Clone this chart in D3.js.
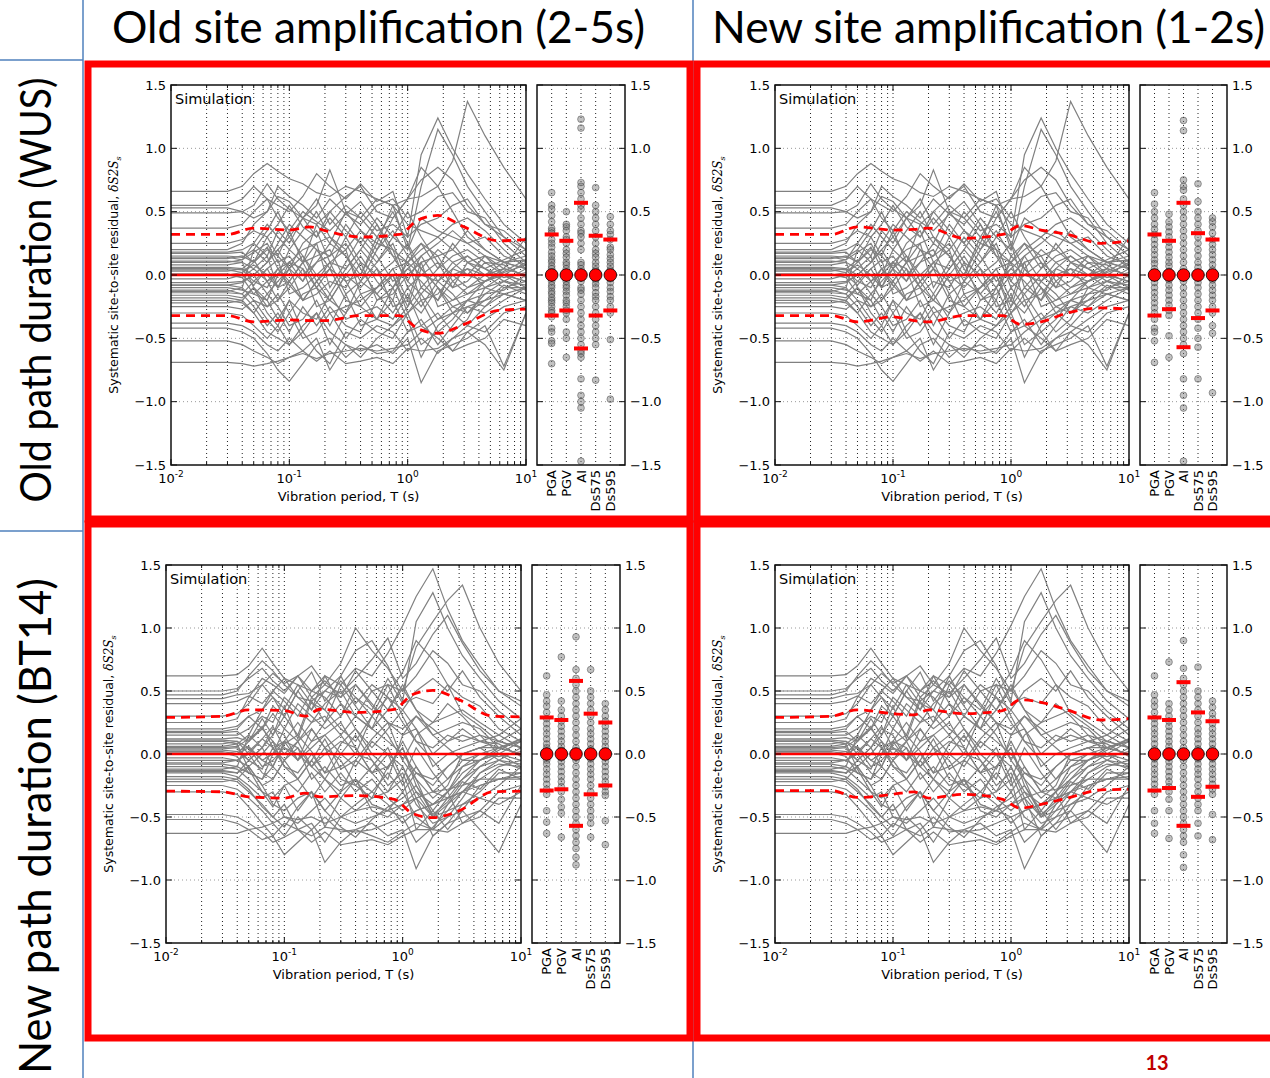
<!DOCTYPE html>
<html><head><meta charset="utf-8">
<script src="https://cdn.jsdelivr.net/npm/d3@7"></script>
<style>body{margin:0;background:#fff}svg{display:block}</style>
</head><body>
<svg id="c" width="1270" height="1078"></svg>
<script>
// ---------------- DATA ----------------
const columnTitles = ["Old site amplification (2-5s)", "New site amplification (1-2s)"];
const rowTitles = ["Old path duration (WUS)", "New path duration (BT14)"];
const categories = ["PGA", "PGV", "AI", "Ds575", "Ds595"];
const yTicks = [-1.5, -1.0, -0.5, 0.0, 0.5, 1.0, 1.5];
const xTickExps = [-2, -1, 0, 1];
const periods = [0.01,0.03,0.04,0.05,0.065,0.08,0.1,0.13,0.17,0.22,0.3,0.4,0.55,0.75,1.0,1.3,1.8,2.4,3.2,4.5,6.5,10];

// residual curves, top row (old path duration)
const row1Lines = [
[0.66,0.66,0.7,0.8,0.88,0.82,0.76,0.72,0.65,0.62,0.7,0.66,0.6,0.55,0.6,0.62,0.7,0.9,1.37,1.1,0.85,0.6],
[0.55,0.55,0.6,0.7,0.6,0.55,0.5,0.62,0.8,0.7,0.6,0.72,0.58,0.66,0.3,0.95,1.24,1.0,0.8,0.6,0.4,0.25],
[0.53,0.53,0.5,0.55,0.72,0.6,0.52,0.45,0.55,0.83,0.5,0.45,0.6,0.55,0.2,0.7,1.15,0.95,0.7,0.5,0.3,0.2],
[0.49,0.49,0.5,0.45,0.5,0.62,0.58,0.45,0.4,0.5,0.62,0.7,0.5,0.45,0.6,0.75,0.85,0.75,0.55,0.4,0.3,0.15],
[0.37,0.37,0.4,0.5,0.6,0.45,0.35,0.5,0.42,0.35,0.48,0.4,0.55,0.6,0.45,0.5,0.62,0.65,0.5,0.45,0.25,0.1],
[0.25,0.25,0.28,0.35,0.3,0.4,0.55,0.38,0.3,0.45,0.3,0.5,0.35,0.4,0.3,0.4,0.45,0.55,0.6,0.4,0.35,0.2],
[0.18,0.18,0.2,0.25,0.4,0.3,0.2,0.35,0.5,0.3,0.2,0.35,0.25,0.55,0.4,0.35,0.3,0.4,0.45,0.35,0.2,0.05],
[0.15,0.15,0.14,0.2,0.1,0.25,0.4,0.3,0.2,0.15,0.4,0.25,0.1,0.3,0.2,0.45,0.35,0.3,0.25,0.3,0.15,0.08],
[0.13,0.13,0.15,0.1,0.2,0.15,0.05,0.25,0.35,0.1,0.05,0.2,0.4,0.15,0.1,0.25,0.15,0.2,0.35,0.2,0.1,0.12],
[0.1,0.1,0.12,0.18,0.25,0.1,0.15,0.0,0.1,0.25,0.15,-0.05,0.2,0.35,0.15,0.05,0.2,0.1,0.15,0.05,0.12,0.2],
[0.06,0.06,0.05,0.0,0.1,0.2,0.3,0.15,-0.05,0.05,0.3,0.1,0.0,0.1,0.25,-0.1,0.05,0.25,0.1,0.0,0.05,0.3],
[0.03,0.03,0.05,0.12,-0.05,0.05,0.1,0.2,0.25,-0.1,0.1,0.3,0.15,-0.05,0.05,0.15,-0.05,0.05,0.0,0.15,0.1,0.15],
[0.0,0.0,-0.02,0.05,0.15,-0.1,-0.05,0.1,0.15,0.2,-0.05,0.0,0.25,0.2,-0.1,0.0,0.1,-0.1,-0.05,0.1,0.0,-0.05],
[-0.03,-0.03,0.0,-0.08,0.05,0.12,-0.15,-0.1,0.0,0.1,0.2,-0.15,-0.1,0.05,0.1,-0.2,-0.15,0.0,0.05,-0.1,-0.05,0.05],
[-0.06,-0.06,-0.05,0.0,-0.15,-0.05,0.05,-0.2,-0.15,-0.05,-0.1,0.1,-0.2,-0.15,0.0,0.1,-0.25,-0.2,-0.1,0.0,-0.1,-0.1],
[-0.1,-0.1,-0.12,-0.15,-0.05,-0.2,-0.1,0.05,-0.25,-0.2,0.0,-0.1,0.05,-0.25,-0.2,-0.3,-0.1,-0.3,-0.2,-0.15,-0.12,0.0],
[-0.13,-0.13,-0.1,-0.2,-0.25,-0.15,-0.3,-0.15,-0.1,-0.3,-0.25,-0.2,-0.1,0.0,-0.3,-0.15,-0.35,-0.25,-0.3,-0.2,-0.08,-0.15],
[-0.16,-0.16,-0.18,-0.1,-0.2,-0.35,-0.2,-0.3,-0.35,-0.15,-0.35,-0.3,-0.25,-0.35,-0.15,-0.4,-0.3,-0.45,-0.35,-0.1,-0.15,-0.2],
[-0.2,-0.2,-0.22,-0.3,-0.15,-0.25,-0.4,-0.35,-0.2,-0.4,-0.15,-0.4,-0.35,-0.2,-0.45,-0.35,-0.55,-0.4,-0.25,-0.3,-0.2,-0.1],
[-0.25,-0.25,-0.27,-0.2,-0.35,-0.45,-0.3,-0.5,-0.45,-0.3,-0.5,-0.35,-0.45,-0.5,-0.3,-0.55,-0.45,-0.6,-0.45,-0.35,-0.25,-0.2],
[-0.3,-0.3,-0.32,-0.4,-0.5,-0.4,-0.55,-0.45,-0.6,-0.7,-0.45,-0.5,-0.4,-0.45,-0.6,-0.5,-0.62,-0.5,-0.4,-0.45,-0.3,-0.25],
[-0.38,-0.38,-0.4,-0.45,-0.55,-0.6,-0.5,-0.6,-0.5,-0.75,-0.55,-0.6,-0.55,-0.62,-0.5,-0.85,-0.6,-0.55,-0.5,-0.4,-0.72,-0.3],
[-0.42,-0.42,-0.45,-0.5,-0.62,-0.75,-0.84,-0.7,-0.55,-0.5,-0.65,-0.55,-0.62,-0.6,-0.45,-0.4,-0.5,-0.6,-0.55,-0.5,-0.35,-0.4],
[-0.52,-0.52,-0.55,-0.6,-0.65,-0.7,-0.65,-0.6,-0.68,-0.6,-0.7,-0.68,-0.65,-0.7,-0.58,-0.6,-0.58,-0.5,-0.45,-0.55,-0.75,-0.3],
[-0.69,-0.69,-0.7,-0.72,-0.7,-0.68,-0.65,-0.62,-0.66,-0.62,-0.6,-0.58,-0.6,-0.58,-0.55,-0.45,-0.35,-0.3,-0.25,-0.2,-0.15,-0.1],
[0.2,0.2,0.25,0.4,0.5,0.7,0.62,0.55,0.45,0.6,0.48,0.58,0.4,0.2,0.1,0.2,0.3,0.2,0.1,0.15,0.05,0.0],
[-0.08,-0.08,-0.1,0.2,0.35,0.5,0.3,0.45,0.6,0.4,0.55,0.45,0.3,0.5,0.25,0.05,-0.1,-0.2,-0.15,-0.05,0.0,-0.05],
[0.08,0.08,0.1,-0.1,-0.3,-0.4,-0.2,-0.45,-0.3,-0.55,-0.3,-0.15,-0.35,-0.4,-0.25,-0.1,-0.2,-0.05,0.05,0.0,0.1,0.05],
[-0.12,-0.12,-0.15,-0.25,-0.4,-0.3,-0.45,-0.25,-0.4,-0.25,-0.4,-0.45,-0.2,-0.1,-0.35,-0.65,-0.4,-0.3,-0.4,-0.25,-0.1,-0.05],
[0.14,0.14,0.12,0.25,0.15,0.35,0.25,0.45,0.3,0.5,0.35,0.25,0.45,0.3,0.5,0.3,0.1,0.0,-0.1,-0.05,0.02,0.08],
[-0.18,-0.18,-0.2,-0.3,-0.45,-0.5,-0.55,-0.4,-0.3,-0.45,-0.55,-0.65,-0.5,-0.4,-0.3,-0.2,-0.45,-0.35,-0.2,-0.25,-0.15,-0.2],
[0.04,0.04,0.02,0.1,0.3,0.15,0.35,0.1,0.4,0.25,0.5,0.35,0.2,0.45,0.6,0.85,0.7,0.5,0.3,0.2,0.1,0.05],
[0.0,0.0,0.02,0.08,0.0,-0.1,0.05,0.15,0.0,-0.15,0.05,0.2,0.05,-0.1,0.1,0.0,-0.05,0.1,0.0,-0.05,0.05,0.0],
[0.05,0.05,0.04,-0.05,-0.1,0.05,-0.08,-0.2,-0.05,0.1,-0.15,-0.05,0.1,0.25,-0.05,-0.15,0.0,-0.1,0.1,0.05,-0.05,-0.08],
[-0.08,-0.08,-0.06,0.0,0.1,0.2,0.05,-0.05,0.2,0.05,-0.2,-0.25,-0.1,0.05,-0.2,0.1,0.15,-0.05,-0.15,-0.1,0.0,0.1],
[0.11,0.11,0.1,0.05,-0.05,0.0,0.2,0.1,-0.1,-0.2,0.0,0.15,-0.05,-0.2,0.15,0.25,0.05,0.15,0.2,0.1,0.08,-0.02],
[-0.14,-0.14,-0.15,-0.05,0.05,-0.1,0.1,0.05,-0.1,0.05,-0.05,-0.25,-0.35,-0.1,0.05,-0.05,-0.2,0.05,0.15,0.05,-0.02,0.02],
[0.17,0.17,0.18,0.1,0.22,0.05,-0.05,0.1,0.25,0.3,0.15,0.0,0.3,0.15,-0.05,0.15,0.25,0.35,0.25,0.15,0.0,-0.1],
[-0.22,-0.22,-0.2,-0.1,-0.25,-0.2,-0.05,-0.2,-0.05,-0.2,-0.3,-0.05,-0.15,-0.3,-0.1,-0.25,-0.05,-0.15,-0.3,-0.15,-0.05,-0.12],
[0.01,0.01,-0.02,-0.15,-0.2,0.0,0.1,-0.05,0.1,0.15,0.25,0.05,-0.15,0.0,-0.25,0.05,-0.1,-0.25,-0.2,-0.05,0.03,0.12]
];

// residual curves, bottom row (new path duration)
const row2Lines = [
[0.62,0.62,0.63,0.7,0.84,0.72,0.6,0.55,0.5,0.62,0.55,0.68,0.62,0.8,1.02,1.25,1.47,1.15,0.9,0.7,0.5,0.38],
[0.5,0.5,0.52,0.6,0.68,0.58,0.5,0.62,0.45,0.55,0.72,1.0,0.82,0.68,0.5,0.85,1.05,1.22,1.34,1.0,0.72,0.5],
[0.47,0.47,0.5,0.62,0.74,0.66,0.55,0.45,0.42,0.5,0.62,0.82,0.9,0.7,0.42,1.05,1.28,1.0,0.78,0.6,0.42,0.28],
[0.44,0.44,0.47,0.48,0.55,0.64,0.56,0.62,0.7,0.55,0.48,0.6,0.75,0.92,0.6,0.72,0.95,1.1,0.88,0.66,0.5,0.42],
[0.4,0.4,0.42,0.46,0.4,0.5,0.6,0.45,0.35,0.5,0.45,0.66,0.5,0.55,0.5,0.62,0.82,0.72,0.55,0.5,0.34,0.2],
[0.3,0.3,0.32,0.4,0.55,0.45,0.36,0.55,0.4,0.35,0.62,0.4,0.55,0.45,0.35,0.5,0.6,0.5,0.66,0.45,0.3,0.15],
[0.2,0.2,0.22,0.3,0.35,0.5,0.42,0.3,0.5,0.45,0.3,0.45,0.35,0.6,0.4,0.45,0.4,0.55,0.45,0.38,0.2,0.1],
[0.15,0.15,0.15,0.2,0.3,0.25,0.45,0.35,0.25,0.4,0.5,0.3,0.2,0.35,0.55,0.35,0.25,0.3,0.35,0.25,0.15,0.05],
[0.12,0.12,0.13,0.1,0.2,0.32,0.2,0.4,0.3,0.2,0.3,0.55,0.4,0.25,0.2,0.3,0.15,0.2,0.25,0.2,0.05,0.12],
[0.1,0.1,0.08,0.15,0.05,0.15,0.3,0.15,0.45,0.35,0.2,0.1,0.3,0.45,0.25,0.1,0.05,0.15,0.1,0.15,0.1,0.2],
[0.08,0.08,0.1,0.0,0.12,0.05,0.1,0.25,0.1,0.25,0.4,0.2,0.05,0.2,0.35,0.2,-0.1,0.0,0.05,0.1,0.15,0.28],
[0.05,0.05,0.06,0.12,0.2,0.1,0.0,0.1,0.2,0.05,0.15,0.3,0.2,0.1,0.0,-0.15,-0.2,-0.1,0.0,0.05,0.05,0.1],
[0.03,0.03,0.02,-0.05,0.05,0.2,0.15,-0.05,0.05,0.15,0.0,-0.1,0.1,0.0,-0.1,-0.3,-0.4,-0.3,-0.15,-0.05,0.0,0.0],
[0.0,0.0,0.0,0.05,-0.1,-0.05,0.05,0.0,-0.1,0.0,0.1,0.05,-0.15,-0.1,0.05,-0.2,-0.5,-0.45,-0.3,-0.2,-0.1,-0.05],
[-0.03,-0.03,-0.05,-0.1,0.0,0.1,-0.1,-0.15,0.0,-0.15,-0.1,0.0,-0.05,-0.25,-0.15,-0.4,-0.55,-0.5,-0.35,-0.15,-0.08,-0.1],
[-0.05,-0.05,-0.05,0.0,-0.15,-0.2,-0.05,0.05,-0.2,-0.1,-0.25,-0.2,-0.3,-0.15,-0.3,-0.5,-0.6,-0.4,-0.25,-0.1,-0.05,0.05],
[-0.08,-0.08,-0.1,-0.15,-0.2,-0.1,-0.2,-0.3,-0.15,-0.3,-0.15,-0.3,-0.2,-0.35,-0.45,-0.35,-0.65,-0.55,-0.4,-0.3,-0.15,-0.15],
[-0.1,-0.1,-0.12,-0.2,-0.3,-0.35,-0.25,-0.2,-0.35,-0.2,-0.35,-0.45,-0.35,-0.3,-0.2,-0.6,-0.45,-0.6,-0.45,-0.25,-0.2,-0.2],
[-0.13,-0.13,-0.15,-0.1,-0.25,-0.4,-0.45,-0.35,-0.3,-0.45,-0.3,-0.2,-0.45,-0.5,-0.4,-0.3,-0.5,-0.35,-0.3,-0.35,-0.25,-0.1],
[-0.15,-0.15,-0.18,-0.25,-0.35,-0.3,-0.5,-0.55,-0.45,-0.35,-0.5,-0.4,-0.3,-0.4,-0.55,-0.45,-0.4,-0.3,-0.55,-0.45,-0.3,-0.25],
[-0.2,-0.2,-0.22,-0.3,-0.4,-0.5,-0.4,-0.6,-0.55,-0.7,-0.5,-0.55,-0.5,-0.45,-0.5,-0.7,-0.58,-0.45,-0.4,-0.35,-0.4,-0.3],
[-0.25,-0.25,-0.28,-0.35,-0.45,-0.55,-0.65,-0.5,-0.6,-0.5,-0.62,-0.6,-0.55,-0.65,-0.6,-0.91,-0.65,-0.55,-0.5,-0.45,-0.55,-0.25],
[-0.3,-0.3,-0.32,-0.42,-0.55,-0.65,-0.8,-0.7,-0.6,-0.86,-0.7,-0.6,-0.65,-0.7,-0.62,-0.55,-0.6,-0.62,-0.55,-0.5,-0.35,-0.35],
[-0.48,-0.48,-0.5,-0.55,-0.62,-0.7,-0.66,-0.6,-0.7,-0.62,-0.72,-0.7,-0.68,-0.72,-0.65,-0.6,-0.6,-0.5,-0.45,-0.6,-0.78,-0.4],
[-0.52,-0.52,-0.55,-0.6,-0.68,-0.65,-0.55,-0.6,-0.65,-0.58,-0.6,-0.62,-0.6,-0.55,-0.5,-0.45,-0.4,-0.35,-0.3,-0.25,-0.2,-0.15],
[-0.63,-0.63,-0.63,-0.6,-0.58,-0.55,-0.5,-0.52,-0.5,-0.55,-0.5,-0.45,-0.42,-0.45,-0.4,-0.35,-0.3,-0.28,-0.25,-0.2,-0.2,-0.18],
[0.25,0.25,0.28,0.45,0.6,0.55,0.48,0.62,0.5,0.58,0.45,0.55,0.38,0.25,0.15,0.3,0.2,0.1,0.15,0.1,0.05,0.0],
[-0.12,-0.12,-0.1,0.15,0.35,0.45,0.3,0.5,0.65,0.42,0.58,0.45,0.3,0.55,0.3,0.1,-0.05,-0.2,-0.1,-0.05,0.0,-0.05],
[0.06,0.06,0.08,-0.12,-0.3,-0.42,-0.25,-0.45,-0.3,-0.58,-0.35,-0.2,-0.4,-0.45,-0.3,-0.15,-0.25,-0.1,0.0,0.05,0.1,0.05],
[0.18,0.18,0.2,0.3,0.2,0.38,0.3,0.5,0.35,0.62,0.4,0.3,0.5,0.35,0.52,0.35,0.15,0.05,-0.05,0.0,0.05,0.1],
[-0.18,-0.18,-0.2,-0.28,-0.42,-0.5,-0.58,-0.42,-0.3,-0.45,-0.58,-0.66,-0.52,-0.42,-0.35,-0.25,-0.48,-0.38,-0.22,-0.28,-0.12,-0.2],
[0.02,0.02,0.0,0.1,0.28,0.15,0.38,0.12,0.42,0.25,0.55,0.38,0.2,0.48,0.65,0.9,0.75,0.55,0.32,0.22,0.1,0.05],
[0.0,0.0,0.02,0.06,-0.05,-0.1,0.08,0.15,0.02,-0.15,0.08,0.2,0.0,-0.12,0.1,-0.1,-0.3,-0.2,-0.05,-0.05,0.05,0.0],
[0.04,0.04,0.05,-0.05,-0.12,0.05,-0.1,-0.2,-0.05,0.12,-0.12,-0.05,0.12,0.25,-0.05,-0.2,-0.35,-0.25,0.0,0.05,-0.05,-0.08],
[-0.07,-0.07,-0.05,0.02,0.12,0.22,0.05,-0.05,0.2,0.05,-0.2,-0.25,-0.1,0.05,-0.2,0.05,-0.15,-0.3,-0.2,-0.1,0.0,0.1],
[0.11,0.11,0.1,0.05,-0.05,0.0,0.2,0.1,-0.1,-0.2,0.0,0.15,-0.05,-0.2,0.15,0.2,0.0,0.1,0.2,0.1,0.08,-0.02],
[-0.14,-0.14,-0.15,-0.05,0.05,-0.1,0.1,0.05,-0.1,0.05,-0.05,-0.25,-0.35,-0.1,0.05,-0.25,-0.45,-0.3,-0.1,0.0,-0.02,0.02],
[0.17,0.17,0.18,0.1,0.22,0.05,-0.05,0.1,0.25,0.3,0.15,0.0,0.3,0.15,-0.05,0.15,0.25,0.4,0.3,0.15,0.0,-0.1],
[-0.22,-0.22,-0.2,-0.1,-0.25,-0.2,-0.05,-0.2,-0.05,-0.2,-0.3,-0.05,-0.15,-0.3,-0.1,-0.35,-0.5,-0.4,-0.3,-0.15,-0.05,-0.12],
[0.01,0.01,-0.02,-0.15,-0.2,0.0,0.1,-0.05,0.1,0.15,0.25,0.05,-0.15,0.0,-0.25,-0.1,-0.3,-0.35,-0.2,-0.05,0.03,0.12]
];

// +/- one standard deviation curves
const sigmaPeriods = [0.01,0.03,0.05,0.1,0.15,0.2,0.4,0.85,1.2,1.8,3.0,5.8,10];
const sigmaUpperTL = [0.32,0.32,0.37,0.355,0.38,0.35,0.30,0.32,0.43,0.47,0.38,0.27,0.28];
const sigmaLowerTL = [-0.32,-0.32,-0.37,-0.355,-0.36,-0.36,-0.32,-0.32,-0.42,-0.46,-0.39,-0.28,-0.27];
const sigmaUpperTR = [0.32,0.32,0.38,0.355,0.36,0.37,0.29,0.32,0.39,0.355,0.32,0.25,0.27];
const sigmaLowerTR = [-0.32,-0.32,-0.37,-0.33,-0.36,-0.37,-0.32,-0.32,-0.39,-0.37,-0.3,-0.26,-0.27];
const sigmaUpperBL = [0.29,0.30,0.35,0.345,0.30,0.355,0.33,0.355,0.47,0.505,0.43,0.30,0.295];
const sigmaLowerBL = [-0.295,-0.30,-0.34,-0.35,-0.31,-0.34,-0.33,-0.36,-0.47,-0.505,-0.45,-0.30,-0.295];
const sigmaUpperBR = [0.29,0.30,0.35,0.32,0.31,0.35,0.32,0.345,0.43,0.41,0.35,0.27,0.28];
const sigmaLowerBR = [-0.29,-0.29,-0.345,-0.32,-0.30,-0.35,-0.32,-0.36,-0.43,-0.40,-0.35,-0.285,-0.28];

// site terms for scalar intensity measures (per category)
const scatterTL = [
[0.65,0.55,0.52,0.47,0.42,0.37,0.35,0.33,0.28,0.25,0.22,0.18,0.15,0.12,0.1,0.07,0.05,0.02,-0.02,-0.05,-0.08,-0.1,-0.13,-0.15,-0.18,-0.2,-0.22,-0.25,-0.28,-0.3,-0.33,-0.42,-0.45,-0.52,-0.54,-0.7],
[0.5,0.4,0.38,0.35,0.3,0.28,0.25,0.2,0.17,0.14,0.1,0.08,0.05,0.02,-0.02,-0.05,-0.08,-0.1,-0.13,-0.16,-0.2,-0.22,-0.25,-0.28,-0.3,-0.35,-0.45,-0.5,-0.65],
[1.23,1.16,0.73,0.7,0.65,0.6,0.55,0.52,0.45,0.4,0.35,0.33,0.3,0.25,0.2,0.1,0.08,0.05,0.02,-0.05,-0.1,-0.12,-0.15,-0.2,-0.25,-0.3,-0.35,-0.4,-0.45,-0.5,-0.55,-0.6,-0.62,-0.65,-0.82,-0.95,-1.0,-1.05,-1.47],
[0.69,0.55,0.5,0.45,0.4,0.35,0.3,0.25,0.2,0.17,0.14,0.1,0.07,0.04,0.0,-0.04,-0.07,-0.1,-0.14,-0.17,-0.2,-0.25,-0.3,-0.35,-0.4,-0.45,-0.5,-0.55,-0.83],
[0.46,0.4,0.35,0.32,0.28,0.22,0.2,0.16,0.13,0.1,0.07,0.04,0.0,-0.03,-0.06,-0.1,-0.13,-0.17,-0.2,-0.25,-0.3,-0.51,-0.98]
];
const scatterTR = [
[0.65,0.56,0.5,0.45,0.4,0.36,0.32,0.28,0.24,0.2,0.16,0.12,0.09,0.05,0.02,-0.02,-0.06,-0.1,-0.14,-0.18,-0.22,-0.26,-0.3,-0.35,-0.42,-0.45,-0.52,-0.69],
[0.48,0.42,0.38,0.34,0.3,0.26,0.22,0.18,0.14,0.1,0.07,0.03,0.0,-0.04,-0.08,-0.12,-0.16,-0.2,-0.24,-0.28,-0.32,-0.48,-0.65],
[1.22,1.14,0.75,0.7,0.67,0.6,0.55,0.5,0.45,0.4,0.35,0.3,0.25,0.2,0.15,0.1,0.05,0.0,-0.05,-0.1,-0.15,-0.2,-0.25,-0.3,-0.35,-0.4,-0.45,-0.5,-0.55,-0.62,-0.82,-0.95,-1.05,-1.47],
[0.72,0.58,0.5,0.45,0.4,0.35,0.3,0.25,0.2,0.15,0.1,0.06,0.02,-0.02,-0.06,-0.1,-0.15,-0.2,-0.25,-0.3,-0.35,-0.42,-0.5,-0.57,-0.82],
[0.45,0.42,0.38,0.33,0.28,0.24,0.2,0.16,0.12,0.08,0.04,0.0,-0.04,-0.08,-0.12,-0.16,-0.2,-0.25,-0.3,-0.4,-0.46,-0.93]
];
const scatterBL = [
[0.62,0.47,0.42,0.38,0.33,0.28,0.24,0.2,0.16,0.12,0.08,0.05,0.02,-0.02,-0.05,-0.08,-0.12,-0.16,-0.2,-0.24,-0.28,-0.32,-0.45,-0.54,-0.63],
[0.77,0.42,0.35,0.3,0.26,0.22,0.18,0.14,0.1,0.06,0.03,0.0,-0.03,-0.06,-0.1,-0.14,-0.18,-0.22,-0.26,-0.3,-0.36,-0.42,-0.47,-0.66],
[0.93,0.67,0.6,0.55,0.5,0.45,0.4,0.35,0.3,0.25,0.2,0.15,0.1,0.05,0.0,-0.05,-0.1,-0.15,-0.2,-0.25,-0.3,-0.35,-0.4,-0.45,-0.5,-0.55,-0.6,-0.65,-0.7,-0.75,-0.82,-0.88],
[0.67,0.5,0.45,0.4,0.35,0.3,0.25,0.2,0.16,0.12,0.08,0.04,0.0,-0.04,-0.08,-0.12,-0.16,-0.2,-0.25,-0.3,-0.35,-0.4,-0.45,-0.5,-0.55,-0.66],
[0.4,0.35,0.3,0.26,0.22,0.18,0.14,0.1,0.06,0.02,-0.02,-0.06,-0.1,-0.14,-0.18,-0.22,-0.26,-0.3,-0.33,-0.53,-0.72]
];
const scatterBR = [
[0.62,0.47,0.42,0.38,0.33,0.28,0.24,0.2,0.16,0.12,0.08,0.04,0.0,-0.04,-0.08,-0.12,-0.16,-0.2,-0.24,-0.28,-0.32,-0.45,-0.55,-0.63],
[0.73,0.4,0.35,0.3,0.26,0.22,0.18,0.14,0.1,0.06,0.02,-0.02,-0.06,-0.1,-0.14,-0.18,-0.22,-0.26,-0.3,-0.36,-0.45,-0.67],
[0.9,0.68,0.6,0.55,0.5,0.45,0.4,0.35,0.3,0.25,0.2,0.15,0.1,0.05,0.0,-0.05,-0.1,-0.15,-0.2,-0.25,-0.3,-0.35,-0.4,-0.45,-0.5,-0.55,-0.6,-0.65,-0.7,-0.8,-0.9],
[0.69,0.5,0.45,0.4,0.35,0.3,0.25,0.2,0.16,0.12,0.08,0.04,0.0,-0.04,-0.08,-0.12,-0.16,-0.2,-0.25,-0.3,-0.35,-0.4,-0.45,-0.55,-0.65],
[0.42,0.37,0.32,0.28,0.24,0.2,0.16,0.12,0.08,0.04,0.0,-0.04,-0.08,-0.12,-0.16,-0.2,-0.24,-0.28,-0.32,-0.48,-0.68]
];
const barsUpperTL = [0.32,0.27,0.57,0.31,0.28];
const barsLowerTL = [-0.32,-0.28,-0.58,-0.32,-0.28];
const barsUpperTR = [0.32,0.27,0.57,0.33,0.28];
const barsLowerTR = [-0.32,-0.27,-0.57,-0.34,-0.28];
const barsUpperBL = [0.29,0.27,0.58,0.32,0.25];
const barsLowerBL = [-0.29,-0.28,-0.57,-0.32,-0.25];
const barsUpperBR = [0.29,0.27,0.57,0.33,0.26];
const barsLowerBR = [-0.29,-0.27,-0.57,-0.34,-0.26];
const meansAll = [0,0,0,0,0];

// ---------------- LAYOUT ----------------
const panels = [
 {lines:row1Lines, su:sigmaUpperTL, sl:sigmaLowerTL, sc:scatterTL, bu:barsUpperTL, bl:barsLowerTL, x0:171,x1:526,y0:85,y1:465,s0:537,s1:625,ylx:118},
 {lines:row1Lines, su:sigmaUpperTR, sl:sigmaLowerTR, sc:scatterTR, bu:barsUpperTR, bl:barsLowerTR, x0:775,x1:1129,y0:85,y1:465,s0:1140,s1:1227,ylx:722},
 {lines:row2Lines, su:sigmaUpperBL, sl:sigmaLowerBL, sc:scatterBL, bu:barsUpperBL, bl:barsLowerBL, x0:166,x1:521,y0:565,y1:943,s0:532,s1:620,ylx:113},
 {lines:row2Lines, su:sigmaUpperBR, sl:sigmaLowerBR, sc:scatterBR, bu:barsUpperBR, bl:barsLowerBR, x0:775,x1:1129,y0:565,y1:943,s0:1140,s1:1227,ylx:722}
];

const svg = d3.select("#c");
svg.append("rect").attr("width",1270).attr("height",1078).attr("fill","#fff");
const TF = "'DejaVu Sans', sans-serif";
const fmt = d3.format(".1f");

// slide frame lines (blue)
const blue = "#4f81bd";
[[83,0,83,1078],[693,0,693,1078],[0,60,83,60],[0,531,83,531]].forEach(l=>
  svg.append("line").attr("x1",l[0]).attr("y1",l[1]).attr("x2",l[2]).attr("y2",l[3])
    .attr("stroke",blue).attr("stroke-width",1.5));

// column titles
svg.append("text").attr("x",112).attr("y",43).attr("font-family","Lato, 'Open Sans', sans-serif")
  .attr("font-size",44).attr("textLength",533).attr("lengthAdjust","spacingAndGlyphs").text(columnTitles[0]);
svg.append("text").attr("x",712).attr("y",43).attr("font-family","Lato, 'Open Sans', sans-serif")
  .attr("font-size",44).attr("textLength",553).attr("lengthAdjust","spacingAndGlyphs").text(columnTitles[1]);
// row titles
svg.append("text").attr("transform","translate(51,290) rotate(-90)").attr("text-anchor","middle")
  .attr("font-family","Lato, 'Open Sans', sans-serif").attr("font-size",42)
  .attr("textLength",425).attr("lengthAdjust","spacingAndGlyphs").text(rowTitles[0]);
svg.append("text").attr("transform","translate(51,826) rotate(-90)").attr("text-anchor","middle")
  .attr("font-family","Lato, 'Open Sans', sans-serif").attr("font-size",44)
  .attr("textLength",496).attr("lengthAdjust","spacingAndGlyphs").text(rowTitles[1]);

panels.forEach((P,pi)=>{
  const g = svg.append("g");
  const x = d3.scaleLog().domain([0.01,10]).range([P.x0,P.x1]);
  const y = d3.scaleLinear().domain([-1.5,1.5]).range([P.y1,P.y0]);
  const clipId = "clip"+pi;
  svg.append("clipPath").attr("id",clipId).append("rect")
    .attr("x",P.x0).attr("y",P.y0).attr("width",P.x1-P.x0).attr("height",P.y1-P.y0);

  // grid
  const allX = x.ticks();
  g.selectAll(null).data(allX.filter(t=>t>0.01&&t<10)).join("line")
    .attr("x1",d=>x(d)).attr("x2",d=>x(d)).attr("y1",P.y0).attr("y2",P.y1)
    .attr("stroke","#222").attr("stroke-width",1).attr("stroke-dasharray","1,3");
  g.selectAll(null).data(yTicks.filter(t=>t>-1.5&&t<1.5)).join("line")
    .attr("x1",P.x0).attr("x2",P.x1).attr("y1",d=>y(d)).attr("y2",d=>y(d))
    .attr("stroke","#999").attr("stroke-width",1).attr("stroke-dasharray","1,3");

  const line = d3.line().x(d=>x(d[0])).y(d=>y(d[1]));
  const lg = g.append("g").attr("clip-path",`url(#${clipId})`);
  lg.selectAll(null).data(P.lines).join("path")
    .attr("d",v=>line(periods.map((p,i)=>[p,v[i]])))
    .attr("fill","none").attr("stroke","#808080").attr("stroke-width",1.2);
  // zero (mean) line
  lg.append("path").attr("d",line([[0.01,0],[10,0]])).attr("stroke","#f00").attr("stroke-width",2.6);
  const sline = d3.line().x(d=>x(d[0])).y(d=>y(d[1])).curve(d3.curveMonotoneX);
  [P.su,P.sl].forEach(s=>{
    lg.append("path").attr("d",sline(sigmaPeriods.map((p,i)=>[p,s[i]])))
      .attr("fill","none").attr("stroke","#f00").attr("stroke-width",2.8).attr("stroke-dasharray","9,6");
  });

  // frame
  g.append("rect").attr("x",P.x0).attr("y",P.y0).attr("width",P.x1-P.x0).attr("height",P.y1-P.y0)
    .attr("fill","none").attr("stroke","#111").attr("stroke-width",1.5);
  // ticks
  allX.forEach(t=>{
    const major = Math.abs(Math.log10(t)-Math.round(Math.log10(t)))<1e-9;
    const L = major?6:3;
    g.append("line").attr("x1",x(t)).attr("x2",x(t)).attr("y1",P.y1).attr("y2",P.y1-L).attr("stroke","#111");
    g.append("line").attr("x1",x(t)).attr("x2",x(t)).attr("y1",P.y0).attr("y2",P.y0+L).attr("stroke","#111");
  });
  yTicks.forEach(t=>{
    g.append("line").attr("x1",P.x0).attr("x2",P.x0+6).attr("y1",y(t)).attr("y2",y(t)).attr("stroke","#111");
    g.append("line").attr("x1",P.x1).attr("x2",P.x1-6).attr("y1",y(t)).attr("y2",y(t)).attr("stroke","#111");
  });
  // y tick labels
  g.selectAll(null).data(yTicks).join("text")
    .attr("x",P.x0-5).attr("y",d=>y(d)).attr("dy","0.35em").attr("text-anchor","end")
    .attr("font-family",TF).attr("font-size",13).text(d=>fmt(d));
  // x tick labels
  xTickExps.forEach(e=>{
    const t = g.append("text").attr("x",x(Math.pow(10,e))).attr("y",P.y1+18)
      .attr("text-anchor","middle").attr("font-family",TF).attr("font-size",13);
    t.append("tspan").text("10");
    t.append("tspan").attr("dy",-6).attr("font-size",9).text(e<0?("-"+(-e)):String(e));
  });
  g.append("text").attr("x",(P.x0+P.x1)/2).attr("y",P.y1+36).attr("text-anchor","middle")
    .attr("font-family",TF).attr("font-size",13).text("Vibration period, T (s)");
  // y label
  const yl = g.append("text").attr("transform",`translate(${P.ylx},${(P.y0+P.y1)/2}) rotate(-90)`)
    .attr("text-anchor","middle").attr("font-family",TF).attr("font-size",12.5);
  yl.append("tspan").text("Systematic site-to-site residual, ");
  yl.append("tspan").attr("font-family","'DejaVu Serif', serif").attr("font-style","italic").attr("font-size",12).text("δS2S");
  yl.append("tspan").attr("font-family","'DejaVu Serif', serif").attr("font-style","italic").attr("font-size",8).attr("dy",3).text("s");
  g.append("text").attr("x",P.x0+4).attr("y",P.y0+19).attr("font-family",TF).attr("font-size",14.5).text("Simulation");

  // ---------- scatter panel ----------
  const xs = d3.scalePoint().domain(categories).range([P.s0,P.s1]).padding(1);
  g.selectAll(null).data(categories).join("line")
    .attr("x1",d=>xs(d)).attr("x2",d=>xs(d)).attr("y1",P.y0).attr("y2",P.y1)
    .attr("stroke","#222").attr("stroke-dasharray","1,3");
  g.selectAll(null).data(yTicks.filter(t=>t>-1.5&&t<1.5)).join("line")
    .attr("x1",P.s0).attr("x2",P.s1).attr("y1",d=>y(d)).attr("y2",d=>y(d))
    .attr("stroke","#999").attr("stroke-dasharray","1,3");
  const pts = [];
  P.sc.forEach((arr,ci)=>arr.forEach(v=>pts.push([categories[ci],v])));
  g.selectAll(null).data(pts).join("circle")
    .attr("cx",d=>xs(d[0])).attr("cy",d=>y(d[1])).attr("r",3.4)
    .attr("fill","rgba(120,120,120,0.45)").attr("stroke","rgba(50,50,50,0.55)").attr("stroke-width",0.8);
  [P.bu,P.bl].forEach(b=>{
    g.selectAll(null).data(categories).join("rect")
      .attr("x",d=>xs(d)-7).attr("y",(d,i)=>y(b[i])-2).attr("width",14).attr("height",4).attr("fill","#f00");
  });
  g.selectAll(null).data(categories).join("circle")
    .attr("cx",d=>xs(d)).attr("cy",(d,i)=>y(meansAll[i])).attr("r",6.3)
    .attr("fill","#f00").attr("stroke","#000").attr("stroke-width",0.8);
  g.append("rect").attr("x",P.s0).attr("y",P.y0).attr("width",P.s1-P.s0).attr("height",P.y1-P.y0)
    .attr("fill","none").attr("stroke","#111").attr("stroke-width",1.5);
  yTicks.forEach(t=>{
    g.append("line").attr("x1",P.s1).attr("x2",P.s1-6).attr("y1",y(t)).attr("y2",y(t)).attr("stroke","#111");
    g.append("line").attr("x1",P.s0).attr("x2",P.s0+6).attr("y1",y(t)).attr("y2",y(t)).attr("stroke","#111");
  });
  g.selectAll(null).data(yTicks).join("text")
    .attr("x",P.s1+5).attr("y",d=>y(d)).attr("dy","0.35em").attr("font-family",TF).attr("font-size",13).text(d=>fmt(d));
  g.selectAll(null).data(categories).join("text")
    .attr("transform",d=>`translate(${xs(d)},${P.y1+5}) rotate(-90)`)
    .attr("dy","0.35em").attr("text-anchor","end").attr("font-family",TF).attr("font-size",13).text(d=>d);
});

// red highlight boxes
[[88,64,602,455],[697,64,580,455],[88,524,602,514],[697,524,580,514]].forEach(r=>
  svg.append("rect").attr("x",r[0]).attr("y",r[1]).attr("width",r[2]).attr("height",r[3])
    .attr("fill","none").attr("stroke","#f00").attr("stroke-width",7));

// page number
svg.append("text").attr("x",1157).attr("y",1070).attr("text-anchor","middle")
  .attr("font-family","Lato, sans-serif").attr("font-weight","bold").attr("font-size",20)
  .attr("fill","#c00000").text("13");
</script>
</body></html>
